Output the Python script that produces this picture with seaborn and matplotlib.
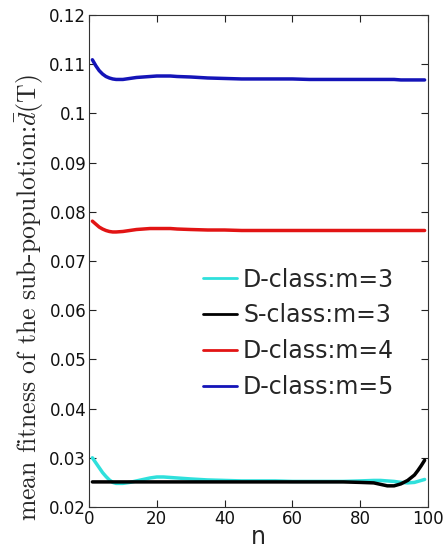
import matplotlib
matplotlib.use("Agg")
import matplotlib.pyplot as plt
import seaborn as sns
import pandas as pd

# sample points along n
n_vals = [1, 2, 3, 4, 5, 6, 7, 8, 10, 12, 14, 16, 18, 20, 22, 24, 26, 30, 35, 40,
          45, 50, 55, 60, 65, 70, 75, 80, 84, 86, 88, 90, 92, 94, 96, 97, 98, 99]

d_class_m3 = [0.0300, 0.0290, 0.0280, 0.0270, 0.0262, 0.0255, 0.0250, 0.0248, 0.0248, 0.0250,
              0.0253, 0.0256, 0.0259, 0.0261, 0.0261, 0.0260, 0.0259, 0.0257, 0.0255, 0.0254,
              0.0253, 0.0253, 0.0253, 0.0252, 0.0252, 0.0252, 0.0252, 0.0253, 0.0254, 0.0254,
              0.0253, 0.0252, 0.0250, 0.0249, 0.0250, 0.0252, 0.0254, 0.0256]

s_class_m3 = [0.0251, 0.0251, 0.0251, 0.0251, 0.0251, 0.0251, 0.0251, 0.0251, 0.0251, 0.0251,
              0.0251, 0.0251, 0.0251, 0.0251, 0.0251, 0.0251, 0.0251, 0.0251, 0.0251, 0.0251,
              0.0251, 0.0251, 0.0251, 0.0251, 0.0251, 0.0251, 0.0251, 0.0250, 0.0249, 0.0246,
              0.0243, 0.0243, 0.0247, 0.0254, 0.0265, 0.0274, 0.0284, 0.0295]

d_class_m4 = [0.0781, 0.0775, 0.0769, 0.0765, 0.0762, 0.0760, 0.0759, 0.0759, 0.0760, 0.0762,
              0.0764, 0.0765, 0.0766, 0.0766, 0.0766, 0.0766, 0.0765, 0.0764, 0.0763, 0.0763,
              0.0762, 0.0762, 0.0762, 0.0762, 0.0762, 0.0762, 0.0762, 0.0762, 0.0762, 0.0762,
              0.0762, 0.0762, 0.0762, 0.0762, 0.0762, 0.0762, 0.0762, 0.0762]

d_class_m5 = [0.1109, 0.1097, 0.1087, 0.1080, 0.1075, 0.1072, 0.1070, 0.1069, 0.1069, 0.1071,
              0.1073, 0.1074, 0.1075, 0.1076, 0.1076, 0.1076, 0.1075, 0.1074, 0.1072, 0.1071,
              0.1070, 0.1070, 0.1070, 0.1070, 0.1069, 0.1069, 0.1069, 0.1069, 0.1069, 0.1069,
              0.1069, 0.1069, 0.1068, 0.1068, 0.1068, 0.1068, 0.1068, 0.1068]

series_names = ["D-class:m=3", "S-class:m=3", "D-class:m=4", "D-class:m=5"]
series_values = [d_class_m3, s_class_m3, d_class_m4, d_class_m5]
series_colors = ["#2fe0dc", "#000000", "#e21414", "#1414b8"]

x_ticks = [0, 20, 40, 60, 80, 100]
y_ticks = [0.02, 0.03, 0.04, 0.05, 0.06, 0.07, 0.08, 0.09, 0.10, 0.11, 0.12]
y_tick_labels = ["0.02", "0.03", "0.04", "0.05", "0.06", "0.07", "0.08", "0.09",
                 "0.1", "0.11", "0.12"]

frames = []
for name, vals in zip(series_names, series_values):
    frames.append(pd.DataFrame({"n": n_vals, "value": vals, "series": name}))
df = pd.concat(frames, ignore_index=True)

sns.set_style("ticks")
plt.rcParams["font.family"] = ["DejaVu Sans"]
plt.rcParams["mathtext.fontset"] = "cm"

fig = plt.figure(figsize=(4.45, 5.49), dpi=100)
ax = fig.add_axes([89 / 445, 42 / 549, 339 / 445, 492 / 549])

sns.lineplot(data=df, x="n", y="value", hue="series", hue_order=series_names,
             palette=dict(zip(series_names, series_colors)), linewidth=2.5,
             ax=ax, legend=True)

ax.set_xlim(0, 100)
ax.set_ylim(0.02, 0.12)
ax.set_xticks(x_ticks)
ax.set_xticklabels([str(t) for t in x_ticks])
ax.set_yticks(y_ticks)
ax.set_yticklabels(y_tick_labels)

ax.tick_params(direction="in", length=5, width=0.8, top=True, right=True,
               labelsize=12, pad=2, colors="#222222", labelcolor="#111111")
for sp in ax.spines.values():
    sp.set_linewidth(0.8)
    sp.set_color("#333333")

ax.set_xlabel("n", fontsize=17, labelpad=-2)
ax.set_ylabel(r"mean fitness of the sub-populotion:$\bar{d}$(T)",
              fontsize=18.5, family="cmr10")
ax.yaxis.set_label_coords(-0.127, 0.425)

leg = ax.legend(loc="center left", bbox_to_anchor=(0.336, 0.353), frameon=False,
                fontsize=17, handlelength=1.45, handletextpad=0.25,
                labelspacing=0.5, borderpad=0, borderaxespad=0)
for line in leg.get_lines():
    line.set_linewidth(2.0)

fig.savefig("out.png", dpi=100)
